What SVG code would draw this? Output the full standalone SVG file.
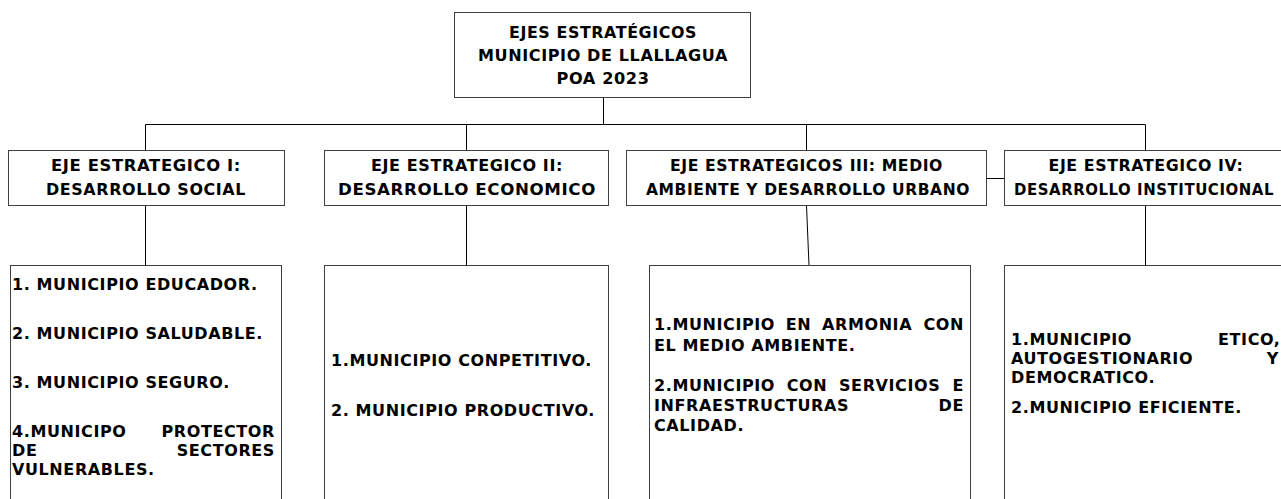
<svg xmlns="http://www.w3.org/2000/svg" width="1281" height="499" viewBox="0 0 1281 499">
<style>
.box{fill:#fff;stroke:#404040;stroke-width:1}
.t{font-family:"DejaVu Sans",sans-serif;font-weight:bold;font-size:16px;letter-spacing:0.6px;fill:#000}
.c{text-anchor:middle}
.e{text-anchor:end}
.conn{fill:none;stroke:#000;stroke-width:1}
</style>
<rect width="1281" height="499" fill="#fff"/>
<g id="connectors" class="conn">
<path d="M603.5 97.5V124.5"/>
<path d="M145.5 124.5H1145.5"/>
<path d="M145.5 124.5V150.5M466.5 124.5V150.5M806.5 124.5V150.5M1145.5 124.5V150.5"/>
<path d="M145.5 205.5V265.5M466.5 205.5V265.5M806.5 205.5L809 265.5M1145.5 205.5V265.5"/>
<path d="M986.5 178.5H1004.5"/>
</g>
<g id="root">
<rect class="box" x="454.5" y="12.5" width="296" height="85"/>
<text class="t c" x="603" y="38" textLength="188" lengthAdjust="spacingAndGlyphs">EJES ESTRATÉGICOS</text>
<text class="t c" x="603" y="61" textLength="250" lengthAdjust="spacingAndGlyphs">MUNICIPIO DE LLALLAGUA</text>
<text class="t c" x="603" y="84" textLength="93" lengthAdjust="spacingAndGlyphs">POA 2023</text>
</g>
<g id="eje1">
<rect class="box" x="8.5" y="150.5" width="276" height="55"/>
<text class="t c" x="146" y="170.5" textLength="190" lengthAdjust="spacingAndGlyphs">EJE ESTRATEGICO I:</text>
<text class="t c" x="146" y="195" textLength="200" lengthAdjust="spacingAndGlyphs">DESARROLLO SOCIAL</text>
</g>
<g id="eje2">
<rect class="box" x="324.5" y="150.5" width="284" height="55"/>
<text class="t c" x="467" y="170.5" textLength="192" lengthAdjust="spacingAndGlyphs">EJE ESTRATEGICO II:</text>
<text class="t c" x="467" y="195" textLength="258" lengthAdjust="spacingAndGlyphs">DESARROLLO ECONOMICO</text>
</g>
<g id="eje3">
<rect class="box" x="626.5" y="150.5" width="360" height="55"/>
<text class="t c" x="806.5" y="170.5" textLength="273" lengthAdjust="spacingAndGlyphs">EJE ESTRATEGICOS III: MEDIO</text>
<text class="t c" x="808" y="195" textLength="324" lengthAdjust="spacingAndGlyphs">AMBIENTE Y DESARROLLO URBANO</text>
</g>
<g id="eje4">
<rect class="box" x="1004.5" y="150.5" width="284" height="55"/>
<text class="t c" x="1146" y="170.5" textLength="195" lengthAdjust="spacingAndGlyphs">EJE ESTRATEGICO IV:</text>
<text class="t c" x="1144" y="195" textLength="260" lengthAdjust="spacingAndGlyphs">DESARROLLO INSTITUCIONAL</text>
</g>
<g id="prog1">
<rect class="box" x="10.5" y="265.5" width="271" height="260"/>
<text class="t" x="12" y="290">1. MUNICIPIO EDUCADOR.</text>
<text class="t" x="12" y="339">2. MUNICIPIO SALUDABLE.</text>
<text class="t" x="12" y="388">3. MUNICIPIO SEGURO.</text>
<text class="t" x="12" y="437">4.MUNICIPO</text>
<text class="t e" x="275" y="437">PROTECTOR</text>
<text class="t" x="12" y="456">DE</text>
<text class="t e" x="275" y="456">SECTORES</text>
<text class="t" x="12" y="475">VULNERABLES.</text>
</g>
<g id="prog2">
<rect class="box" x="324.5" y="265.5" width="284" height="260"/>
<text class="t" x="331" y="366">1.MUNICIPIO CONPETITIVO.</text>
<text class="t" x="331" y="416">2. MUNICIPIO PRODUCTIVO.</text>
</g>
<g id="prog3">
<rect class="box" x="649.5" y="265.5" width="321" height="260"/>
<text class="t" x="654" y="330">1.MUNICIPIO</text>
<text class="t" x="785.8" y="330">EN</text>
<text class="t" x="822" y="330">ARMONIA</text>
<text class="t e" x="964" y="330">CON</text>
<text class="t" x="654" y="351">EL MEDIO AMBIENTE.</text>
<text class="t" x="654" y="391">2.MUNICIPIO</text>
<text class="t" x="786.7" y="391">CON</text>
<text class="t" x="839" y="391">SERVICIOS</text>
<text class="t e" x="964" y="391">E</text>
<text class="t" x="654" y="411">INFRAESTRUCTURAS</text>
<text class="t e" x="964" y="411">DE</text>
<text class="t" x="654" y="431">CALIDAD.</text>
</g>
<g id="prog4">
<rect class="box" x="1004.5" y="265.5" width="300" height="260"/>
<text class="t" x="1011" y="345">1.MUNICIPIO</text>
<text class="t e" x="1280.5" y="345">ETICO,</text>
<text class="t" x="1011" y="364">AUTOGESTIONARIO</text>
<text class="t e" x="1279" y="364">Y</text>
<text class="t" x="1011" y="383">DEMOCRATICO.</text>
<text class="t" x="1011" y="413">2.MUNICIPIO EFICIENTE.</text>
</g>
</svg>
